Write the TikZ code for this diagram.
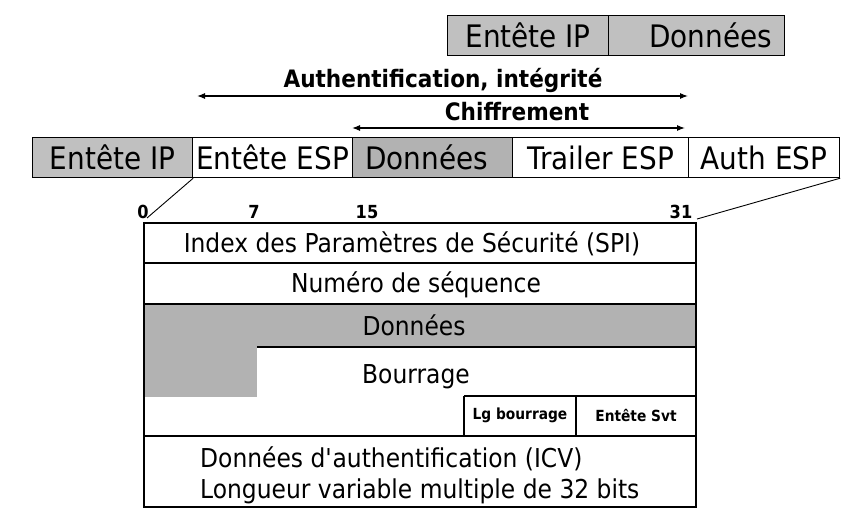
\documentclass[tikz,border=0pt]{standalone}
\usepackage{fontspec}
\setmainfont{DejaVu Sans}[FakeStretch=0.9]
\usetikzlibrary{arrows.meta}
\definecolor{hdrgray}{RGB}{192,192,192}
\definecolor{datagray}{RGB}{178,178,178}
\tikzset{
  rule/.style={line width=1.2pt, draw=black},
  field/.style={rule, inner sep=0pt, anchor=north west, minimum height=40pt,
    font=\fontsize{31}{31}\selectfont},
  cell/.style={inner sep=0pt, font=\fontsize{26}{26}\selectfont},
  smallcell/.style={inner sep=0pt, font=\fontsize{15.3}{15.3}\selectfont\bfseries},
  bitno/.style={inner sep=0pt, font=\fontsize{18}{18}\selectfont\bfseries},
  span/.style={line width=1.1pt, {Latex[length=8pt,width=6pt]}-{Latex[length=8pt,width=6pt]}},
  spanlabel/.style={inner sep=0pt, font=\fontsize{24}{24}\selectfont\bfseries},
  lead/.style={line width=0.9pt},
}
\begin{document}
\begin{tikzpicture}[x=1pt,y=-1pt]
\useasboundingbox (0,0) rectangle (862,519);

% original IP packet
\node[field, fill=hdrgray, minimum width=161pt] (ipA) at (447,15) {Entête IP};
\node[field, fill=hdrgray, minimum width=176pt] (dataA) at (608,15) {\hspace*{28pt}Données};

% ESP encapsulated packet
\node[field, fill=hdrgray, minimum width=160pt] (ipB) at (32,137) {Entête IP};
\node[field, minimum width=160pt] (esph) at (192,137) {Entête ESP};
\node[field, fill=datagray, minimum width=160pt] (dataB) at (352,137) {\hspace*{-12pt}Données};
\node[field, minimum width=176pt] (trail) at (512,137) {Trailer ESP};
\node[field, minimum width=151pt] (auth) at (688,137) {Auth ESP};

% coverage spans
\coordinate (authL) at (197,96);
\coordinate (authR) at (688,96);
\coordinate (encL) at (352,128);
\coordinate (encR) at (685,128);
\draw[span] (authL) -- (authR);
\draw[span] (encL) -- (encR);
\node[spanlabel] (authlbl) at (443,80) {Authentification, intégrité};
\node[spanlabel] (enclbl) at (517,112) {Chiffrement};

% bit positions
\node[bitno] (b0) at (143,212) {0};
\node[bitno] (b7) at (254,212) {7};
\node[bitno] (b15) at (367,212) {15};
\node[bitno] (b31) at (681,212) {31};

% zoom lines to the ESP layout
\coordinate (zl) at (147,218);
\coordinate (zr) at (697,219);
\draw[lead] (ipB.south east) -- (zl);
\draw[lead] (auth.south east) -- (zr);

% ESP layout
\fill[datagray] (144,304) rectangle (696,347);
\fill[datagray] (144,347) rectangle (257,397);
\draw[rule] (144,263) -- (696,263);
\draw[rule] (144,304) -- (696,304);
\draw[rule] (257,347) -- (696,347);
\draw[rule] (464,396) -- (696,396);
\draw[rule] (464,396) -- (464,436);
\draw[rule] (576,396) -- (576,436);
\draw[rule] (144,436) -- (696,436);
\draw[rule] (144,223) rectangle (696,507);

\node[cell] (spi) at (412,244) {Index des Paramètres de Sécurité (SPI)};
\node[cell] (seq) at (416,285) {Numéro de séquence};
\node[cell] (payload) at (414,325) {Données};
\node[cell] (pad) at (416,377) {Bourrage};
\node[smallcell] (padlen) at (520,415) {Lg bourrage};
\node[smallcell] (next) at (636,415) {Entête Svt};
\node[cell, anchor=west, align=left, font=\fontsize{26}{31}\selectfont] (icv) at (200,475)
  {Données d\textquotesingle authentification (ICV)\\Longueur variable multiple de 32 bits};
\end{tikzpicture}
\end{document}
